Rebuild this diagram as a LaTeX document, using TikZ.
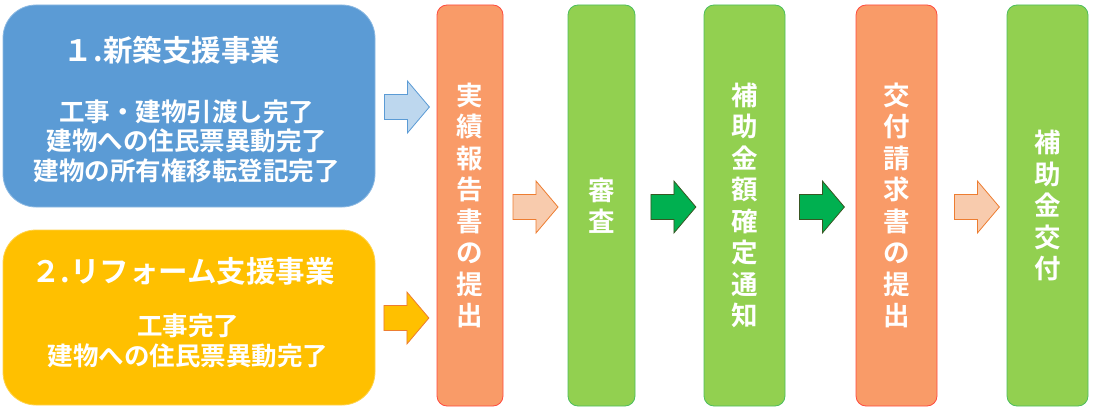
\documentclass[tikz,border=0pt]{standalone}
\usepackage{fontspec}
\setmainfont{Noto Sans CJK JP}[BoldFont={* Bold}]
\usetikzlibrary{calc}

\definecolor{bluebox}{HTML}{5B9BD5}
\definecolor{yellowbox}{HTML}{FFC000}
\definecolor{orangecol}{HTML}{F99B68}
\definecolor{redline}{HTML}{FF4B3E}
\definecolor{greencol}{HTML}{92D050}
\definecolor{greenline}{HTML}{4DBE5C}
\definecolor{lightblue}{HTML}{BDD7EE}
\definecolor{peach}{HTML}{F8CBAD}
\definecolor{orangeline}{HTML}{ED7D31}
\definecolor{darkgreen}{HTML}{00B050}
\definecolor{darkline}{HTML}{385723}

\tikzset{
  casebox/.style={rounded corners=33pt, inner sep=0pt, line width=0.8pt},
  caption/.style={text=white, font=\bfseries\fontsize{29.5}{30}\selectfont},
  body/.style={text=white, align=center, font=\bfseries\fontsize{25.5}{29.5}\selectfont},
  col/.style={rounded corners=10pt, minimum height=401pt, inner sep=0pt, line width=0.8pt,
    text=white, align=center, font=\bfseries\fontsize{26.5}{31.5}\selectfont},
  blockarrow/.pic={
    \draw[pic actions, line width=0.8pt] (-22.5,-12.5) -- (0.5,-12.5) -- (0.5,-26) -- (22.5,0)
      -- (0.5,26) -- (0.5,12.5) -- (-22.5,12.5) -- cycle;
  }
}

\begin{document}
\begin{tikzpicture}[x=1pt,y=-1pt]
  \useasboundingbox (0,0) rectangle (1093,412);

  % left boxes
  \node[casebox, fill=bluebox, draw=bluebox!70!white, minimum width=372pt, minimum height=202pt] (shinchiku) at (189,106) {};
  \node[caption] (shinchikuT) at (172,50) {１.新築支援事業};
  \node[body] (shinchikuB) at (187,141) {工事・建物引渡し完了\\建物への住民票異動完了\\建物の所有権移転登記完了};

  \node[casebox, fill=yellowbox, draw=yellowbox!70!white, minimum width=372pt, minimum height=175pt] (reform) at (189,317.5) {};
  \node[caption] (reformT) at (183,271) {２.リフォーム支援事業};
  \node[body] (reformB) at (188,341) {工事完了\\建物への住民票異動完了};

  % columns
  \node[col, fill=orangecol, draw=redline, minimum width=66pt] (jisseki) at (470,205.5) {実\\績\\報\\告\\書\\の\\提\\出};
  \node[col, fill=greencol, draw=greenline, minimum width=67pt] (shinsa) at (601.5,205.5) {審\\査};
  \node[col, fill=greencol, draw=greenline, minimum width=81pt] (kakutei) at (744.5,205.5) {補\\助\\金\\額\\確\\定\\通\\知};
  \node[col, fill=orangecol, draw=redline, minimum width=81pt] (seikyu) at (896.5,205.5) {交\\付\\請\\求\\書\\の\\提\\出};
  \node[col, fill=greencol, draw=greenline, minimum width=81pt] (kofu) at (1047.5,205.5) {補\\助\\金\\交\\付};

  % arrows
  \pic[fill=lightblue, draw=bluebox] at ($(shinchiku.east)+(31.5,1)$) {blockarrow};
  \pic[fill=yellowbox, draw=orangeline] at ($(reform.east)+(31,0.5)$) {blockarrow};
  \pic[fill=peach, draw=orangeline] at ($(jisseki.east)!0.5!(shinsa.west)+(0,1.5)$) {blockarrow};
  \pic[fill=darkgreen, draw=darkline] at ($(shinsa.east)+(38,1.5)$) {blockarrow};
  \pic[fill=darkgreen, draw=darkline] at ($(kakutei.east)+(36.5,1.5)$) {blockarrow};
  \pic[fill=peach, draw=orangeline] at ($(seikyu.east)+(39.5,1.5)$) {blockarrow};

\end{tikzpicture}
\end{document}
